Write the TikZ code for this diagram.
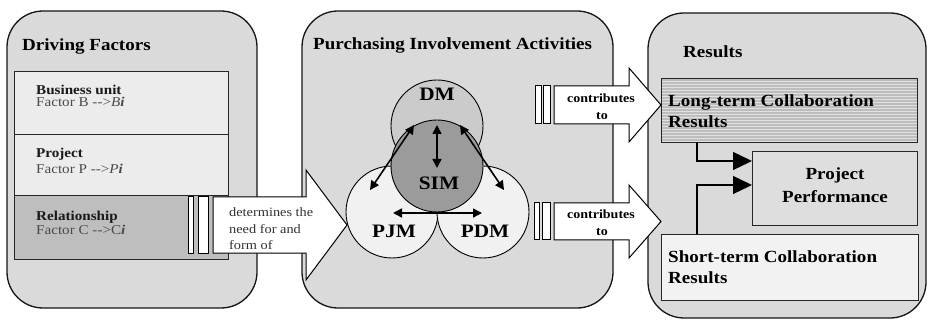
\documentclass[tikz,border=0pt]{standalone}
\usepackage{fontspec}
\setmainfont[FakeStretch=1.12]{Liberation Serif}
\usetikzlibrary{arrows.meta,calc}

\definecolor{panelfill}{HTML}{DADADA}
\definecolor{paneledge}{HTML}{151515}
\definecolor{boxlight}{HTML}{ECECEC}
\definecolor{boxdark}{HTML}{BEBEBE}
\definecolor{dmfill}{HTML}{CBCBCB}
\definecolor{simfill}{HTML}{9B9B9B}
\definecolor{pfill}{HTML}{F1F1F1}
\definecolor{ltfill}{HTML}{BDBDBD}
\definecolor{ppfill}{HTML}{DEDEDE}
\definecolor{stfill}{HTML}{F2F2F2}
\definecolor{softink}{HTML}{4A4A4A}
\definecolor{midink}{HTML}{333333}

\begin{document}
\begin{tikzpicture}[x=1pt,y=-1pt,
  panel/.style={draw=paneledge, line width=1.3pt, fill=panelfill, rounded corners=36pt,
    anchor=north west, inner sep=0pt, outer sep=0pt},
  fbox/.style={draw=black!85, line width=0.9pt, anchor=north west, inner sep=0pt, outer sep=0pt},
  ptitle/.style={font=\fontsize{17}{20}\selectfont\bfseries, anchor=base west, inner sep=0pt},
  boxhead/.style={font=\fontsize{13.5}{15}\selectfont\bfseries, anchor=base west, inner sep=0pt, text=black!90},
  boxsub/.style={font=\fontsize{13.5}{15}\selectfont, anchor=base west, inner sep=0pt, text=softink},
  blockarrow/.style={draw=black, line width=1pt, fill=white, line join=miter},
  circ/.style={circle, draw=black, line width=0.9pt, minimum size=92pt, inner sep=0pt, outer sep=0pt},
  circlabel/.style={font=\fontsize{19}{20}\selectfont\bfseries, inner sep=0pt},
  link/.style={line width=1.6pt, {Triangle[length=9pt,width=9pt]}-{Triangle[length=9pt,width=9pt]}},
  feed/.style={line width=1.3pt, -{Triangle[length=19pt,width=18pt]}},
  restext/.style={font=\fontsize{17}{21}\selectfont\bfseries, anchor=base west, inner sep=0pt},
  arrowtext/.style={font=\fontsize{12.5}{14}\selectfont\bfseries, anchor=base, inner sep=0pt},
  flowtext/.style={font=\fontsize{12.8}{15}\selectfont, anchor=base west, inner sep=0pt, text=midink},
]
\useasboundingbox (0,0) rectangle (928,320);

% three rounded panels
\node[panel, minimum width=250pt, minimum height=297pt] (df) at (7,11) {};
\node[panel, minimum width=311pt, minimum height=297pt] (pia) at (302,11) {};
\node[panel, minimum width=278pt, minimum height=305pt] (res) at (648,13) {};

% ---- Driving Factors ----
\node[ptitle] (dft) at (22,51) {Driving Factors};
\node[fbox, fill=boxlight, minimum width=214pt, minimum height=63pt] (bu) at (14,71) {};
\node[fbox, fill=boxlight, minimum width=214pt, minimum height=61pt] (pj) at (14,134) {};
\node[fbox, fill=boxdark, minimum width=214pt, minimum height=64pt] (rel) at (14,195) {};
\node[boxhead] (but) at (36,95) {Business unit};
\node[boxsub] (bus) at (36,107) {Factor B -{}->\textit{B}\textbf{\textit{i}}};
\node[boxhead] (pjt) at (36,158) {Project};
\node[boxsub] (pjs) at (36,174) {Factor P -{}->\textit{P}\textbf{\textit{i}}};
\node[boxhead] (relt) at (36,221) {Relationship};
\node[boxsub] (rels) at (36,235) {Factor C -{}->C\textbf{\textit{i}}};

% ---- Purchasing Involvement Activities ----
\node[ptitle] (piat) at (313,50) {Purchasing Involvement Activities};
\node[circ, fill=pfill] (pjm) at (392,212) {};
\node[circ, fill=pfill] (pdm) at (483,212) {};
\node[circ, fill=dmfill] (dm) at (437,126) {};
\node[circ, fill=simfill] (sim) at (437,166) {};
\node[circlabel] (dmt) at (437,94) {DM};
\node[circlabel] (simt) at (439,183) {SIM};
\node[circlabel] (pjmt) at (394,231) {PJM};
\node[circlabel] (pdmt) at (485,231) {PDM};
\draw[link] ($(sim.center)+(0,2)$) -- ($(dm.center)+(0,-1)$);
\draw[link] ($(pjm.center)+(-22,-22)$) -- ($(dm.center)+(-23,-1)$);
\draw[link] ($(pdm.center)+(21,-22)$) -- ($(dm.center)+(23,-1)$);
\draw[link] ($(pjm.center)+(1,1)$) -- ($(pdm.center)+(-1,1)$);

% ---- Results ----
\node[ptitle] (rest) at (683,58) {Results};
\node[fbox, fill=ltfill, minimum width=256pt, minimum height=64pt,
  path picture={\foreach \k in {1,...,21}
    \draw[white, opacity=0.55, line width=0.5pt]
      ([yshift=-3*\k pt]path picture bounding box.north west) --
      ([yshift=-3*\k pt]path picture bounding box.north east);}] (lt) at (661,78) {};
\node[fbox, fill=ppfill, minimum width=165pt, minimum height=74pt] (pp) at (752,151) {};
\node[fbox, fill=stfill, minimum width=257pt, minimum height=66pt] (st) at (661,234) {};
\node[restext] (lt1) at (668,107) {Long-term Collaboration};
\node[restext] (lt2) at (668,128) {Results};
\node[restext, anchor=base] (pp1) at (835,180) {Project};
\node[restext, anchor=base] (pp2) at (835,203) {Performance};
\node[restext] (st1) at (668,262) {Short-term Collaboration};
\node[restext] (st2) at (668,283) {Results};
\draw[feed] ([xshift=36pt]lt.south west) |- ([yshift=-10pt]pp.north west);
\draw[feed] ([xshift=36pt]st.north west) |- ([yshift=-34pt]pp.north west);

% ---- striped block arrows ----
% driving factors -> involvement activities
\draw[blockarrow] (188,197) rectangle (193,253);
\draw[blockarrow] (198,197) rectangle (208,253);
\draw[blockarrow] (213,197) -- (306,197) -- (306,170) -- (347,225) -- (306,280)
  -- (306,253) -- (213,253) -- cycle;
\node[flowtext] (d1) at (229,217) {determines the};
\node[flowtext] (d2) at (229,234) {need for and};
\node[flowtext] (d3) at (229,250) {form of};

% involvement activities -> long-term results
\draw[blockarrow] (535,86) rectangle (541,124);
\draw[blockarrow] (543,86) rectangle (550,124);
\draw[blockarrow] (554,86) -- (629,86) -- (629,68) -- (661,105) -- (629,142)
  -- (629,124) -- (554,124) -- cycle;
\node[arrowtext] (c1) at (601,103) {contributes};
\node[arrowtext] (c2) at (602,120) {to};

% involvement activities -> short-term results
\draw[blockarrow] (534,203) rectangle (539,240);
\draw[blockarrow] (542,203) rectangle (550,240);
\draw[blockarrow] (554,203) -- (629,203) -- (629,185) -- (661,221.5) -- (629,258)
  -- (629,240) -- (554,240) -- cycle;
\node[arrowtext] (c3) at (601,219) {contributes};
\node[arrowtext] (c4) at (602,236) {to};
\end{tikzpicture}
\end{document}
